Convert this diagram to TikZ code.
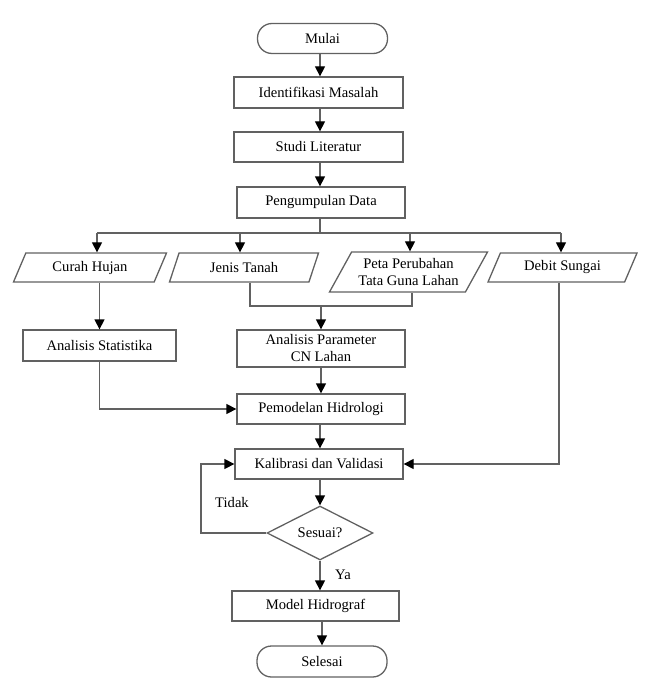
\documentclass[tikz,border=0pt]{standalone}
\usepackage{fontspec}
\setmainfont{Liberation Serif}
\usetikzlibrary{shapes.geometric,arrows.meta,calc}
\begin{document}
\begin{tikzpicture}[x=1pt,y=-1pt,
  every node/.style={font=\fontsize{14.6}{17}\selectfont},
  lineclr/.style={draw=black!62, line width=1.3pt},
  procbox/.style={lineclr, rectangle, inner sep=0pt, align=center, minimum width=#1},
  termbox/.style={lineclr, rectangle, rounded corners=14.5pt, inner sep=0pt, minimum width=130pt, minimum height=30pt},
  iobox/.style={lineclr, trapezium, trapezium left angle=47, trapezium right angle=133,
     trapezium stretches body, inner sep=0pt, align=center, minimum width=#1},
  decbox/.style={lineclr, diamond, aspect=2, inner sep=0pt, minimum width=106pt, minimum height=54pt},
  arr/.style={lineclr, -{Triangle[length=10pt,width=10pt,fill=black,color=black]}},
  conn/.style={lineclr},
  lbl/.style={inner sep=0pt}
]
\useasboundingbox (0,0) rectangle (660,687);

\node[termbox] (mulai) at (322.5,38.5) {Mulai};
\node[procbox=169pt, minimum height=31pt] (ident) at (318.5,92.5) {Identifikasi Masalah};
\node[procbox=169pt, minimum height=30pt] (studi) at (318.5,147) {Studi Literatur};
\node[procbox=168pt, minimum height=31pt] (kumpul) at (321,202.5) {Pengumpulan Data};

\node[iobox=153pt, minimum height=29pt] (curah) at (90,267.5) {Curah Hujan};
\node[iobox=149pt, minimum height=29pt] (jenis) at (244,267.5) {Jenis Tanah};
\node[iobox=158pt, minimum height=40pt, trapezium left angle=51, trapezium right angle=129] (peta) at (408.5,272) {Peta Perubahan\\Tata Guna Lahan};
\node[iobox=149pt, minimum height=29pt] (debit) at (562.5,267.5) {Debit Sungai};

\node[procbox=153pt, minimum height=31pt] (stat) at (99.5,345.5) {Analisis Statistika};
\node[procbox=168pt, minimum height=37pt] (param) at (321,348.5) {Analisis Parameter\\CN Lahan};
\node[procbox=168pt, minimum height=30pt] (model) at (321,409) {Pemodelan Hidrologi};
\node[procbox=168pt, minimum height=30pt] (kalib) at (319,464) {Kalibrasi dan Validasi};
\node[decbox] (sesuai) at (320,533) {Sesuai?};
\node[procbox=167pt, minimum height=30pt] (hidro) at (315.5,606) {Model Hidrograf};
\node[termbox, minimum height=31pt] (selesai) at (322,661.5) {Selesai};

\node[lbl] (tidak) at (232,503) {Tidak};
\node[lbl] (ya) at (343,575) {Ya};

\coordinate (xm) at (320,0);
\draw[arr] (mulai.south -| xm) -- (ident.north -| xm);
\draw[arr] (ident.south -| xm) -- (studi.north -| xm);
\draw[arr] (studi.south -| xm) -- (kumpul.north -| xm);

\coordinate (br) at (320,233);
\coordinate (b1) at (97,233);
\coordinate (b2) at (240,233);
\coordinate (b3) at (410,233);
\coordinate (b4) at (561,233);
\draw[conn] (kumpul.south -| xm) -- (br);
\draw[conn] (b1) -- (b4);
\draw[arr] (b1) -- (b1 |- curah.north);
\draw[arr] (b2) -- (b2 |- jenis.north);
\draw[arr] (b3) -- (b3 |- peta.north);
\draw[arr] (b4) -- (b4 |- debit.north);

\draw[arr] (curah.south -| stat.north) -- (stat.north);

\coordinate (j1) at (250,306);
\coordinate (j2) at (412,306);
\coordinate (jm) at (321,306);
\draw[conn] (jenis.south -| j1) -- (j1) -- (j2) -- (peta.south -| j2);
\draw[arr] (jm) -- (param.north);

\draw[arr] (param.south) -- (model.north);
\draw[arr] (stat.south) |- (model.west);
\draw[arr] (model.south -| xm) -- (kalib.north -| xm);
\coordinate (dx) at (559,0);
\draw[arr] (debit.south -| dx) |- (kalib.east);
\draw[arr] (kalib.south -| sesuai.north) -- (sesuai.north);
\coordinate (lp) at (201,0);
\draw[arr] (sesuai.west) -- (sesuai.west -| lp) |- (kalib.west);
\draw[arr] (sesuai.south) -- (hidro.north -| sesuai.south);
\draw[arr] (hidro.south -| selesai.north) -- (selesai.north);
\end{tikzpicture}
\end{document}
